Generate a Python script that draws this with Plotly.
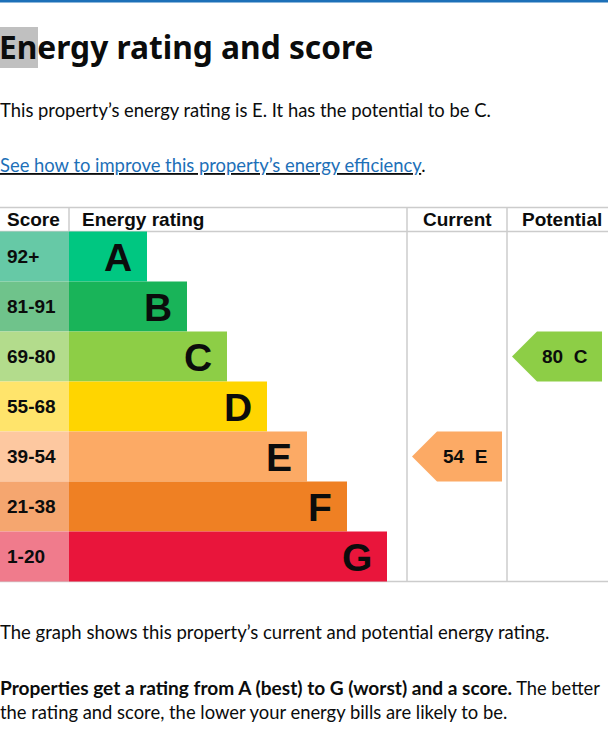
import plotly.graph_objects as go

# ---- data ----
bands = ["A", "B", "C", "D", "E", "F", "G"]
score_ranges = ["92+", "81-91", "69-80", "55-68", "39-54", "21-38", "1-20"]
band_lengths = [78, 118, 158, 198, 238, 278, 318]   # visual band bar lengths (px units)
band_colors = ["#00c781", "#19b459", "#8dce46", "#ffd500", "#fcaa65", "#ef8023", "#e9153b"]
score_colors = ["#66c9a6", "#6fc38b", "#b3dc8c", "#ffe46b", "#fdc8a0", "#f5a66f", "#f07b8c"]
current_score, current_band = 54, "E"
potential_score, potential_band = 80, "C"
headers = ["Score", "Energy rating", "Current", "Potential"]

# ---- layout constants (pixels) ----
W, H = 608, 738
ROW_H = 50
TABLE_TOP = 207.5
HEAD_BOT = 231.5
SCORE_W = 69
CUR_L, CUR_R = 407, 507
POT_L, POT_R = 507, 618
TABLE_BOT = HEAD_BOT + ROW_H * len(bands)
ARIAL = "Liberation Sans, Arial, sans-serif"
PAGE_FONT = "Lato, Noto Sans, sans-serif"
TITLE_FONT = "Noto Sans, Lato, sans-serif"
LINE = "#cccccc"

rows = list(range(len(bands)))
c0 = (HEAD_BOT + ROW_H / 2)          # pixel centre of first row


def py(p):   # pixel -> paper y
    return 1 - p / H


fig = go.Figure()

# score cells
fig.add_trace(go.Bar(
    y=rows, x=[SCORE_W] * len(rows), base=0, orientation="h", width=1,
    marker=dict(color=score_colors, line=dict(width=0)), hoverinfo="skip", showlegend=False))
# band bars
fig.add_trace(go.Bar(
    y=rows, x=band_lengths, base=SCORE_W, orientation="h", width=1,
    marker=dict(color=band_colors, line=dict(width=0)), hoverinfo="skip", showlegend=False))


def arrow(score, band, left, right):
    i = bands.index(band)
    tip = left + 5
    body_l = tip + 25
    body_r = right - 5
    fig.add_trace(go.Scatter(
        x=[tip, body_l, body_r, body_r, body_l, tip],
        y=[i, i - 0.5, i - 0.5, i + 0.5, i + 0.5, i],
        fill="toself", fillcolor=band_colors[i], mode="lines",
        line=dict(width=0, color=band_colors[i]), hoverinfo="skip", showlegend=False))
    fig.add_annotation(x=(tip + body_r) / 2 + 8, y=i, xref="x", yref="y",
                       text=f"<b>{score}\u00a0\u00a0{band}</b>", showarrow=False,
                       font=dict(family=ARIAL, size=19, color="#0b0c0c"),
                       xanchor="center", yanchor="middle")


arrow(current_score, current_band, CUR_L, CUR_R)
arrow(potential_score, potential_band, POT_L, POT_R - 11)

# labels
for i in rows:
    fig.add_annotation(x=5, y=i, xref="x", yref="y", text=f"<b>{score_ranges[i]}</b>",
                       showarrow=False, xanchor="left", yanchor="middle",
                       font=dict(family=ARIAL, size=19, color="#0b0c0c"))
    fig.add_annotation(x=SCORE_W + band_lengths[i] - 13, y=i, xref="x", yref="y",
                       text=f"<b>{bands[i]}</b>", showarrow=False, xanchor="right",
                       yanchor="middle", yshift=-1,
                       font=dict(family=ARIAL, size=39, color="#0b0c0c"))

# header
hy = py((TABLE_TOP + HEAD_BOT) / 2)
head_pos = [(5, "left"), (SCORE_W + 11, "left"), ((CUR_L + CUR_R) / 2, "center"),
            (562, "center")]
for (hx, anc), t in zip(head_pos, headers):
    fig.add_annotation(x=hx, y=hy, xref="x", yref="paper", text=f"<b>{t}</b>",
                       showarrow=False, xanchor=anc, yanchor="middle",
                       font=dict(family=ARIAL, size=19, color="#0b0c0c"))

# grid lines
shapes = [
    dict(type="line", xref="x", yref="paper", x0=0, x1=W, y0=py(TABLE_TOP), y1=py(TABLE_TOP)),
    dict(type="line", xref="x", yref="paper", x0=0, x1=W, y0=py(HEAD_BOT), y1=py(HEAD_BOT)),
    dict(type="line", xref="x", yref="paper", x0=0, x1=W, y0=py(TABLE_BOT), y1=py(TABLE_BOT)),
    dict(type="line", xref="x", yref="paper", x0=SCORE_W, x1=SCORE_W, y0=py(TABLE_TOP), y1=py(HEAD_BOT)),
    dict(type="line", xref="x", yref="paper", x0=CUR_L, x1=CUR_L, y0=py(TABLE_TOP), y1=py(TABLE_BOT)),
    dict(type="line", xref="x", yref="paper", x0=CUR_R, x1=CUR_R, y0=py(TABLE_TOP), y1=py(TABLE_BOT)),
]
for s in shapes:
    s["line"] = dict(color=LINE, width=1.5)
    s["layer"] = "below"
# top blue rule + text highlight
shapes.append(dict(type="rect", xref="paper", yref="paper", x0=0, x1=1, y0=py(2.5), y1=1,
                   fillcolor="#1d70b8", line=dict(width=0)))
shapes.append(dict(type="rect", xref="x", yref="paper", x0=0, x1=38, y0=py(68), y1=py(27),
                   fillcolor="#c0c0c0", line=dict(width=0), layer="below"))
fig.update_layout(shapes=shapes)

# page text
def page_text(txt, ypix, size, color="#0b0c0c", family=PAGE_FONT, xshift=-2):
    fig.add_annotation(x=0, y=py(ypix), xref="paper", yref="paper", text=txt,
                       showarrow=False, xanchor="left", yanchor="middle", xshift=xshift,
                       font=dict(family=family, size=size, color=color))

page_text("<b>Energy rating and score</b>", 46, 31.7, family=TITLE_FONT, xshift=-3)
page_text("This property’s energy rating is E. It has the potential to be C.", 110, 18.4)
page_text("<span style='text-decoration:underline'><span style='color:#1d70b8'>See how to improve this property’s energy efficiency</span></span>.", 165, 18.4)
page_text("The graph shows this property’s current and potential energy rating.", 632, 18.5)
page_text("<span style='font-size:19.1px'><b>Properties get a rating from A (best) to G (worst) and a score.</b></span> The better", 687, 18.3)
page_text("the rating and score, the lower your energy bills are likely to be.", 712, 18.4)

fig.update_layout(
    width=W, height=H, margin=dict(l=0, r=0, t=0, b=0),
    paper_bgcolor="white", plot_bgcolor="white", barmode="overlay",
    xaxis=dict(range=[0, W], visible=False, fixedrange=True),
    yaxis=dict(range=[(H - c0) / ROW_H, -c0 / ROW_H], visible=False, fixedrange=True),
    showlegend=False,
)
fig.write_html("out.html", config={"displayModeBar": False},
               post_script="document.body.style.margin='0';document.body.style.overflow='hidden';")
